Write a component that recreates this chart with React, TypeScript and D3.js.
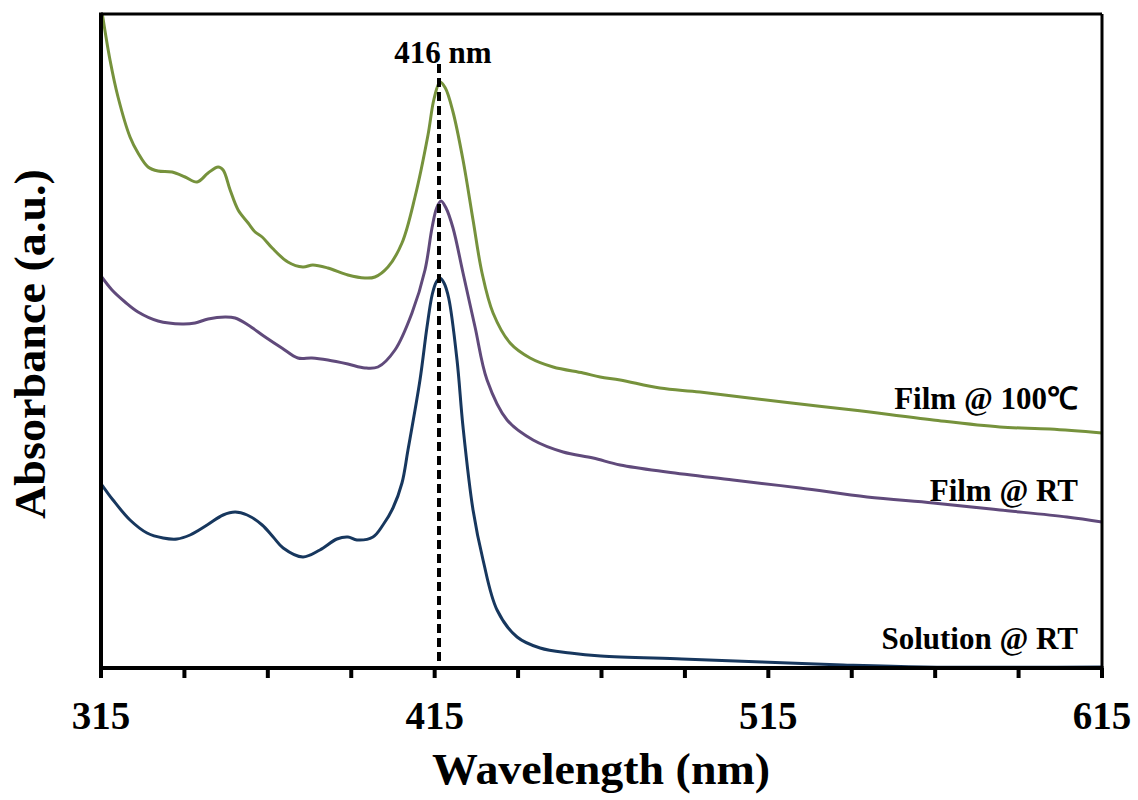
import React from "react";
import * as d3 from "d3";

// ---- Data (absorbance in arbitrary units) ----
const film100Nm = [315.3, 317.7, 320.1, 323.7, 326.1, 329.1, 332.1, 336.3, 340.2, 343.8, 347.1, 350.1, 351.6, 353.7, 356.1, 359.1, 361.2, 363.3, 366.3, 371.0, 375.5, 378.5, 383.0, 389.0, 394.1, 397.1, 401.0, 405.2, 409.1, 413.0, 414.8, 416.6, 418.2, 420.5, 423.5, 426.5, 429.2, 432.5, 437.6, 443.6, 450.5, 459.5, 464.6, 470.6, 482.5, 494.5, 519.4, 540.4, 564.4, 584.4, 599.4, 615];
const film100Abs = [6.56, 6.08, 5.71, 5.31, 5.15, 5.01, 4.97, 4.96, 4.91, 4.86, 4.95, 5.01, 4.98, 4.78, 4.58, 4.45, 4.36, 4.31, 4.20, 4.06, 4.01, 4.03, 4.00, 3.93, 3.90, 3.91, 4.01, 4.25, 4.71, 5.33, 5.69, 5.86, 5.80, 5.56, 5.08, 4.48, 3.95, 3.55, 3.25, 3.10, 3.01, 2.95, 2.91, 2.88, 2.80, 2.76, 2.66, 2.58, 2.48, 2.41, 2.39, 2.35];

const filmRTNm = [315, 318.3, 322.2, 326.1, 332.1, 339.3, 343.2, 347.1, 352.2, 355.2, 359.1, 364.2, 369.2, 374.0, 378.2, 383.0, 389.0, 394.1, 398.0, 403.1, 408.2, 412.1, 414.2, 415.6, 416.9, 418.4, 420.5, 423.5, 427.1, 430.7, 436.7, 444.5, 453.5, 462.5, 470.6, 484.6, 504.4, 524.5, 544.6, 564.4, 584.4, 604.5, 615];
const filmRTAbs = [3.92, 3.78, 3.66, 3.56, 3.47, 3.44, 3.45, 3.49, 3.51, 3.50, 3.43, 3.31, 3.20, 3.10, 3.10, 3.08, 3.04, 3.00, 3.01, 3.18, 3.55, 3.98, 4.40, 4.60, 4.67, 4.60, 4.40, 3.95, 3.41, 2.88, 2.48, 2.28, 2.16, 2.10, 2.03, 1.96, 1.88, 1.80, 1.71, 1.65, 1.58, 1.51, 1.46];

const solutionNm = [315.3, 318.6, 323.7, 328.8, 333.6, 337.8, 341.7, 346.8, 351.6, 355.2, 358.8, 363.3, 366.6, 369.6, 375.5, 380.6, 385.7, 389.0, 391.7, 396.5, 399.5, 402.5, 405.2, 407.0, 410.6, 412.7, 414.3, 415.5, 416.6, 417.8, 419.2, 421.7, 423.5, 426.5, 429.5, 433.7, 439.7, 446.6, 455.6, 464.8, 489.1, 513.1, 537.4, 561.6, 615];
const solutionAbs = [1.83, 1.68, 1.48, 1.35, 1.30, 1.29, 1.33, 1.43, 1.53, 1.56, 1.53, 1.43, 1.31, 1.20, 1.11, 1.18, 1.29, 1.31, 1.28, 1.31, 1.43, 1.60, 1.85, 2.18, 2.88, 3.41, 3.74, 3.86, 3.90, 3.85, 3.70, 3.08, 2.41, 1.58, 1.08, 0.58, 0.31, 0.20, 0.15, 0.12, 0.09, 0.06, 0.03, 0.01, 0.01];

const seriesNames = ["Film @ 100℃", "Film @ RT", "Solution @ RT"];
const seriesColors = ["#76923C", "#604A7B", "#17375E"];
const tickValues = [315, 340, 365, 390, 415, 440, 465, 490, 515, 540, 565, 590, 615];
const tickLabels = [315, 415, 515, 615];
const peakNm = 416;
const peakLabel = "416 nm";

export default function App() {
  const W = 1138, H = 800;
  const left = 101, right = 1102, top = 14, bottom = 668;
  const x = d3.scaleLinear().domain([315, 615]).range([left, right]);
  const y = d3.scaleLinear().domain([0, 6.54]).range([bottom, top]);

  const mk = (xs: number[], ys: number[]) =>
    d3.line<number>().x((_, i) => x(xs[i])).y((d) => y(d)).curve(d3.curveCatmullRom.alpha(0.5))(ys) || "";

  const paths = [
    mk(film100Nm, film100Abs),
    mk(filmRTNm, filmRTAbs),
    mk(solutionNm, solutionAbs),
  ];

  const font = "'Liberation Serif', 'Times New Roman', serif";
  const labelPos = [
    { x: 1078, y: 409 },
    { x: 1078, y: 501 },
    { x: 1078, y: 649 },
  ];

  return (
    <svg width={W} height={H} style={{ position: "absolute", left: 0, top: 0, background: "#fff" }}>
      <defs>
        <clipPath id="plot">
          <rect x={left} y={top} width={right - left} height={bottom - top} />
        </clipPath>
      </defs>
      <rect x={0} y={0} width={W} height={H} fill="#fff" />

      <g clipPath="url(#plot)">
        {paths.map((p, i) => (
          <path key={i} d={p} fill="none" stroke={seriesColors[i]} strokeWidth={3} strokeLinejoin="round" />
        ))}
      </g>

      {/* dashed peak marker */}
      <line x1={x(peakNm) + 1} x2={x(peakNm) + 1} y1={64} y2={bottom} stroke="#000" strokeWidth={4} strokeDasharray="9,5" />
      <text x={x(peakNm) + 5} y={63} textAnchor="middle" fontFamily={font} fontWeight="bold" fontSize={31}>{peakLabel}</text>

      {/* frame */}
      <line x1={left} x2={right} y1={top} y2={top} stroke="#000" strokeWidth={3} />
      <line x1={right} x2={right} y1={top} y2={bottom} stroke="#000" strokeWidth={3} />
      <line x1={left} x2={left} y1={top - 1.5} y2={bottom} stroke="#000" strokeWidth={4} />
      <line x1={left - 2} x2={right + 1.5} y1={bottom} y2={bottom} stroke="#000" strokeWidth={4} />

      {/* ticks */}
      {tickValues.map((t) => (
        <line key={t} x1={x(t)} x2={x(t)} y1={bottom} y2={bottom + 10} stroke="#000" strokeWidth={4} />
      ))}
      {tickLabels.map((t) => (
        <text key={t} x={x(t)} y={729} textAnchor="middle" fontFamily={font} fontWeight="bold" fontSize={39}>{t}</text>
      ))}

      {/* series labels */}
      {seriesNames.map((n, i) => (
        <text key={n} x={labelPos[i].x} y={labelPos[i].y} textAnchor="end" fontFamily={font} fontWeight="bold" fontSize={31}>{n}</text>
      ))}

      {/* axis titles */}
      <text x={601} y={784} textAnchor="middle" fontFamily={font} fontWeight="bold" fontSize={45} textLength={338} lengthAdjust="spacingAndGlyphs">Wavelength (nm)</text>
      <text transform="translate(45,344) rotate(-90)" textAnchor="middle" fontFamily={font} fontWeight="bold" fontSize={45} textLength={350} lengthAdjust="spacingAndGlyphs">Absorbance (a.u.)</text>
    </svg>
  );
}
